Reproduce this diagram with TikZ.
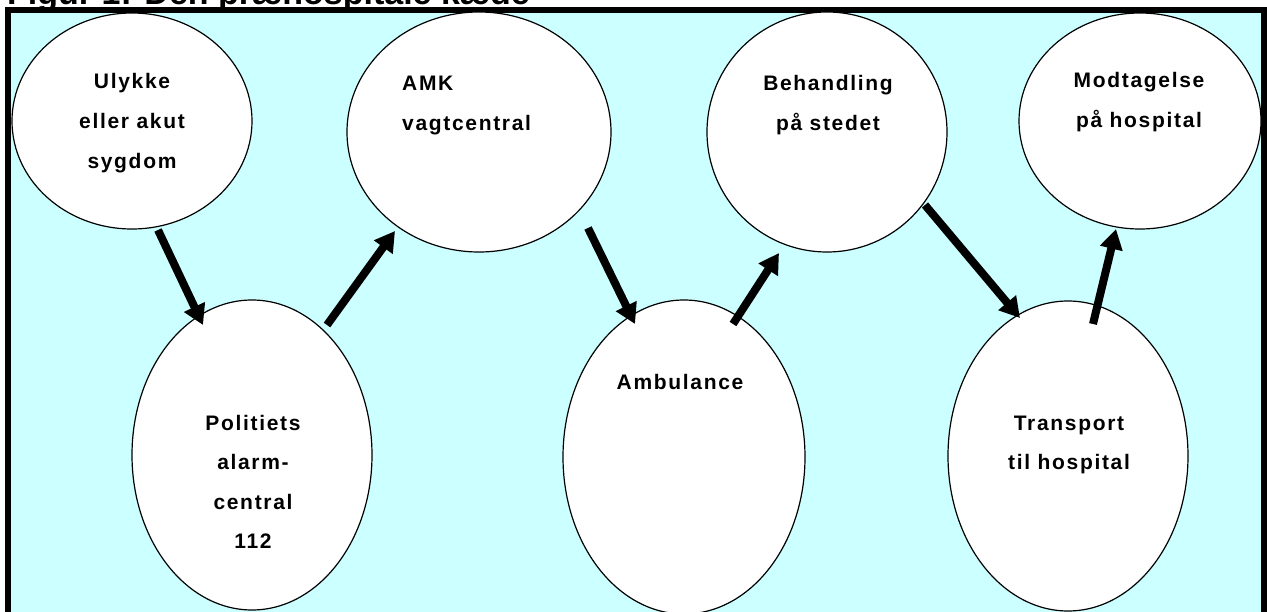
\documentclass[tikz,border=0pt]{standalone}
\usepackage{fontspec}
\usetikzlibrary{arrows.meta,calc,shapes.geometric}
\newfontfamily\lblfont{Liberation Sans}[LetterSpace=8]
\newfontfamily\titlefont{Liberation Sans}
\definecolor{bgcyan}{HTML}{CCFFFF}
\begin{document}
\begin{tikzpicture}[x=1pt,y=-1pt,
  bubble/.style={ellipse, draw=black, line width=1.2pt, fill=white, inner sep=0pt, outer sep=0pt},
  lbl/.style={font=\lblfont\bfseries\fontsize{21}{39.6}\selectfont, inner sep=0pt, anchor=base},
  flow/.style={line width=8pt, -{Triangle[length=20pt,width=22pt]}}]
\useasboundingbox (0,0) rectangle (1267,612);
\clip (0,0) rectangle (1267,612);
% title (cut off at the top, as in the reference)
\node[font=\titlefont\bfseries\fontsize{34}{40}\selectfont, anchor=base west, inner sep=0pt] (title) at (7,5) {Figur 1: Den præhospitale kæde};
% frame
\draw[line width=6pt, fill=bgcyan] (8,10) rectangle (1264,650);
% bubbles
\node[bubble, minimum width=240pt, minimum height=216pt] (U) at (132,121) {};
\node[bubble, minimum width=240pt, minimum height=310pt] (P) at (252,455) {};
\node[bubble, minimum width=264pt, minimum height=240pt] (A) at (479,132) {};
\node[bubble, minimum width=242pt, minimum height=314pt] (Am) at (684,457) {};
\node[bubble, minimum width=240pt, minimum height=240pt] (B) at (827,132) {};
\node[bubble, minimum width=242pt, minimum height=216pt] (M) at (1140,121) {};
\node[bubble, minimum width=240pt, minimum height=310pt] (T) at (1068,456) {};
% labels
\node[lbl] (tU) at (132,89) {\begin{tabular}[t]{@{}c@{}}Ulykke\\eller akut\\sygdom\end{tabular}};
\node[lbl] (tP) at (253,430) {\begin{tabular}[t]{@{}c@{}}Politiets\\alarm-\\central\\112\end{tabular}};
\node[lbl, anchor=base west] (tA) at (402,91) {\begin{tabular}[t]{@{}l@{}}AMK\\vagtcentral\end{tabular}};
\node[lbl] (tAm) at (680,390) {Ambulance};
\node[lbl] (tB) at (828,91) {\begin{tabular}[t]{@{}c@{}}Behandling\\på stedet\end{tabular}};
\node[lbl] (tM) at (1139,88) {\begin{tabular}[t]{@{}c@{}}Modtagelse\\på hospital\end{tabular}};
\node[lbl] (tT) at (1069,430) {\begin{tabular}[t]{@{}c@{}}Transport\\til hospital\end{tabular}};
% arrows
\draw[flow] ($(U)+(26,109)$) -- ($(P)+(-49,-130)$);
\draw[flow] ($(P)+(75,-130)$) -- ($(A)+(-84,99)$);
\draw[flow] ($(A)+(109,96)$) -- ($(Am)+(-49,-133)$);
\draw[flow] ($(Am)+(49,-133)$) -- ($(B)+(-48,121)$);
\draw[flow] ($(B)+(98,73)$) -- ($(T)+(-48,-138)$);
\draw[flow] ($(T)+(25,-132)$) -- ($(M)+(-24,108)$);
\end{tikzpicture}
\end{document}
